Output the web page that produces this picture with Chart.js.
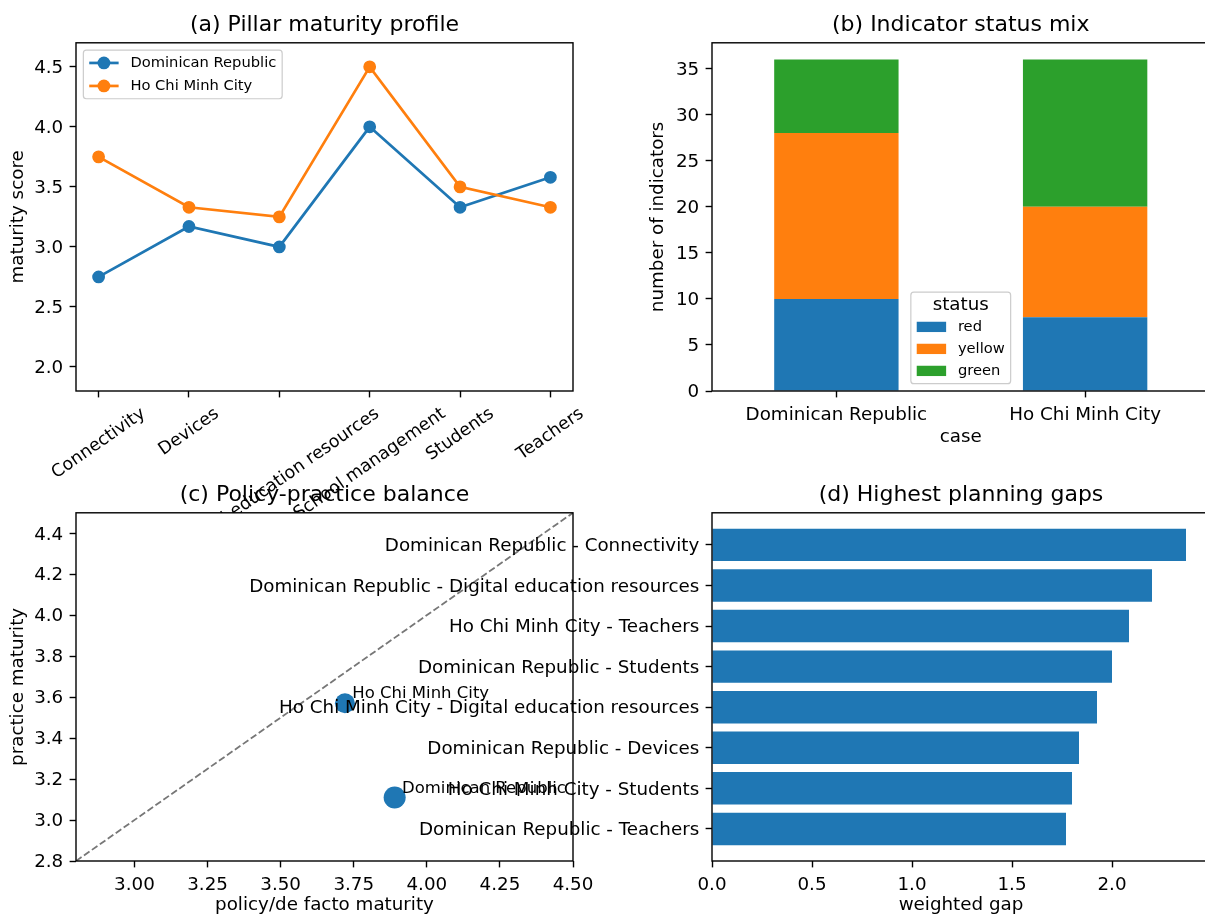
<!DOCTYPE html>
<html>
<head>
<meta charset="utf-8">
<script src="https://cdn.jsdelivr.net/npm/chart.js@4.4.1/dist/chart.umd.min.js"></script>
<style>
  html, body { margin: 0; padding: 0; background: #fff; }
  #fig { position: relative; width: 1205px; height: 917px; overflow: hidden; background: #fff; }
  #fig canvas { position: absolute; }
</style>
</head>
<body>
<div id="fig">
  <canvas id="cA" width="600" height="560" style="left:0;top:0;z-index:1"></canvas>
  <canvas id="cB" width="615" height="470" style="left:600px;top:0;z-index:1"></canvas>
  <canvas id="cC" width="600" height="447" style="left:0;top:470px;z-index:2"></canvas>
  <canvas id="cD" width="985" height="447" style="left:230px;top:470px;z-index:3"></canvas>
</div>
<script>
/* (a) pillar maturity profile */
var PILLARS = ['Connectivity', 'Devices', 'Digital education resources', 'School management', 'Students', 'Teachers'];
var DR_SCORES = [2.75, 3.17, 3.0, 4.0, 3.33, 3.58];
var HCMC_SCORES = [3.75, 3.33, 3.25, 4.5, 3.5, 3.33];
var SCORE_TICKS = [2.0, 2.5, 3.0, 3.5, 4.0, 4.5];

/* (b) indicator status mix */
var CASES = ['Dominican Republic', 'Ho Chi Minh City'];
var RED_COUNTS = [10, 8];
var YELLOW_COUNTS = [18, 12];
var GREEN_COUNTS = [8, 16];
var COUNT_TICKS = [0, 5, 10, 15, 20, 25, 30, 35];

/* (c) policy-practice balance */
var BAL_NAMES = ['Dominican Republic', 'Ho Chi Minh City'];
var POLICY = [3.89, 3.72];
var PRACTICE = [3.11, 3.57];
var POLICY_TICKS = [3.0, 3.25, 3.5, 3.75, 4.0, 4.25, 4.5];
var PRACTICE_TICKS = [2.8, 3.0, 3.2, 3.4, 3.6, 3.8, 4.0, 4.2, 4.4];

/* (d) highest planning gaps */
var GAP_LABELS = [
  'Dominican Republic - Connectivity',
  'Dominican Republic - Digital education resources',
  'Ho Chi Minh City - Teachers',
  'Dominican Republic - Students',
  'Ho Chi Minh City - Digital education resources',
  'Dominican Republic - Devices',
  'Ho Chi Minh City - Students',
  'Dominican Republic - Teachers'
];
var GAP_VALUES = [2.37, 2.20, 2.085, 2.0, 1.925, 1.835, 1.80, 1.77];
var GAP_TICKS = [0, 0.5, 1.0, 1.5, 2.0];

var C0 = '#1f77b4', C1 = '#ff7f0e', C2 = '#2ca02c';
var FONT = "'DejaVu Sans', sans-serif";
var TICK = 6.4;

Chart.defaults.font.family = FONT;
Chart.defaults.font.size = 18.3;
Chart.defaults.color = '#000';
Chart.defaults.animation = false;
Chart.defaults.responsive = false;
Chart.defaults.plugins.legend.display = false;
Chart.defaults.plugins.tooltip.enabled = false;

function axisGrid() {
  return { drawOnChartArea: false, drawTicks: true, tickLength: TICK, tickWidth: 1.4, tickColor: '#000', offset: false };
}
function fixedTicks(arr) {
  return function (scale) { scale.ticks = arr.map(function (v) { return { value: v }; }); };
}
function panelTitle(text) {
  return { display: true, text: text, fullSize: false, color: '#000',
    font: { size: 22, weight: 'normal' }, padding: { top: 11.8, bottom: 4.6 } };
}
function axisTitle(text, pad) {
  return { display: true, text: text, color: '#000', font: { size: 18.3 }, padding: pad };
}

/* axes box (all four spines); optional white face to hide what lies under it */
Chart.register({
  id: 'frame',
  beforeDraw: function (chart, args, o) {
    if (!o.fill) { return; }
    var a = chart.chartArea, ctx = chart.ctx;
    ctx.save(); ctx.fillStyle = '#fff';
    ctx.fillRect(a.left, a.top, a.right - a.left, a.bottom - a.top);
    ctx.restore();
  },
  afterDraw: function (chart) {
    var a = chart.chartArea, ctx = chart.ctx;
    ctx.save(); ctx.strokeStyle = '#000'; ctx.lineWidth = 1.4;
    ctx.strokeRect(a.left, a.top, a.right - a.left, a.bottom - a.top);
    ctx.restore();
  }
});

/* matplotlib-like framed legend drawn inside the axes */
Chart.register({
  id: 'mplLegend',
  afterDraw: function (chart, args, o) {
    if (!o.loc) { return; }
    var ctx = chart.ctx, a = chart.chartArea, fs = o.fontSize;
    var padX = 0.4 * fs, padY = o.padY, hl = 2 * fs, hp = 0.8 * fs;
    var sets = chart.data.datasets;
    ctx.save();
    ctx.font = fs + 'px ' + FONT;
    var tw = 0;
    sets.forEach(function (d) { tw = Math.max(tw, ctx.measureText(d.label).width); });
    var w = padX * 2 + hl + hp + tw;
    var titleH = o.title ? o.titleHeight : 0;
    var h = padY * 2 + titleH + sets.length * o.rowHeight + (sets.length - 1) * o.spacing;
    var gap = 0.5 * fs, x, y;
    if (o.loc === 'upper left') { x = a.left + gap; y = a.top + gap; }
    else { x = (a.left + a.right) / 2 - w / 2; y = a.bottom - gap - h; }
    ctx.beginPath();
    ctx.roundRect(x, y, w, h, 3);
    ctx.fillStyle = 'rgba(255,255,255,0.8)'; ctx.fill();
    ctx.strokeStyle = '#cccccc'; ctx.lineWidth = 1.2; ctx.stroke();
    ctx.textBaseline = 'middle';
    if (o.title) {
      ctx.font = o.titleSize + 'px ' + FONT; ctx.fillStyle = '#000'; ctx.textAlign = 'center';
      ctx.fillText(o.title, x + w / 2, y + padY + o.titleOffset);
    }
    ctx.font = fs + 'px ' + FONT; ctx.textAlign = 'left';
    sets.forEach(function (d, i) {
      var cy = y + padY + titleH + o.rowHeight / 2 + i * (o.rowHeight + o.spacing);
      var hx = x + padX;
      var col = d.borderColor || d.backgroundColor;
      if (o.kind === 'line') {
        ctx.strokeStyle = col; ctx.lineWidth = d.borderWidth;
        ctx.beginPath(); ctx.moveTo(hx, cy); ctx.lineTo(hx + hl, cy); ctx.stroke();
        ctx.fillStyle = col; ctx.beginPath();
        ctx.arc(hx + hl / 2, cy, d.pointRadius + d.pointBorderWidth / 2, 0, Math.PI * 2); ctx.fill();
      } else {
        ctx.fillStyle = d.backgroundColor;
        ctx.fillRect(hx, cy - 0.35 * fs, hl, 0.7 * fs);
      }
      ctx.fillStyle = '#000';
      ctx.fillText(d.label, hx + hl + hp, cy);
    });
    ctx.restore();
  }
});

/* rotated category labels centred under their ticks */
Chart.register({
  id: 'slantLabels',
  afterDraw: function (chart, args, o) {
    if (!o.labels) { return; }
    var sx = chart.scales.x, ctx = chart.ctx;
    var th = o.angle * Math.PI / 180, c = Math.cos(th), s = Math.sin(th), H = o.size * 1.16;
    ctx.save();
    ctx.font = o.size + 'px ' + FONT; ctx.fillStyle = '#000';
    ctx.textAlign = 'center'; ctx.textBaseline = 'middle';
    o.labels.forEach(function (lab, i) {
      var W = ctx.measureText(lab).width;
      var bh = W * s + H * c;
      var cx = sx.getPixelForValue(i), cy = chart.chartArea.bottom + 2 * TICK + bh / 2;
      ctx.save(); ctx.translate(cx, cy); ctx.rotate(-th); ctx.fillText(lab, 0, 0); ctx.restore();
    });
    ctx.restore();
  }
});

/* text next to scatter points */
Chart.register({
  id: 'pointNotes',
  afterDatasetsDraw: function (chart, args, o) {
    if (!o.names) { return; }
    var meta = chart.getDatasetMeta(0), ctx = chart.ctx;
    ctx.save();
    ctx.font = o.size + 'px ' + FONT; ctx.fillStyle = '#000';
    ctx.textAlign = 'left'; ctx.textBaseline = 'alphabetic';
    meta.data.forEach(function (pt, i) { ctx.fillText(o.names[i], pt.x + 7.3, pt.y - 5); });
    ctx.restore();
  }
});

/* (a) */
new Chart(document.getElementById('cA'), {
  type: 'line',
  data: {
    datasets: [
      { label: 'Dominican Republic', data: DR_SCORES.map(function (v, i) { return { x: i, y: v }; }),
        borderColor: C0, backgroundColor: C0, pointBorderColor: C0, borderWidth: 2.7,
        pointRadius: 5.5, pointBorderWidth: 1.8, order: 1 },
      { label: 'Ho Chi Minh City', data: HCMC_SCORES.map(function (v, i) { return { x: i, y: v }; }),
        borderColor: C1, backgroundColor: C1, pointBorderColor: C1, borderWidth: 2.7,
        pointRadius: 5.5, pointBorderWidth: 1.8, order: 0 }
    ]
  },
  options: {
    layout: { padding: { left: 7, right: 27, top: 0, bottom: 159 } },
    scales: {
      x: { type: 'linear', bounds: 'data', offset: false, min: -0.25, max: 5.25, grid: axisGrid(),
        border: { display: false }, ticks: { display: false },
        afterBuildTicks: fixedTicks(PILLARS.map(function (p, i) { return i; })),
        afterFit: function (s) { s.height = 10; } },
      y: { type: 'linear', bounds: 'data', min: 1.8, max: 4.7, grid: axisGrid(), border: { display: false },
        ticks: { padding: TICK, labelOffset: 1.5, callback: function (v) { return v.toFixed(1); } },
        afterBuildTicks: fixedTicks(SCORE_TICKS), afterFit: function (s) { s.width = 69; },
        title: axisTitle('maturity score', 0) }
    },
    plugins: {
      title: panelTitle('(a) Pillar maturity profile'),
      mplLegend: { loc: 'upper left', kind: 'line', fontSize: 14.7, padY: 4.8, rowHeight: 16, spacing: 7 },
      slantLabels: { labels: PILLARS, angle: 35, size: 17.5 }
    }
  }
});

/* (b) */
new Chart(document.getElementById('cB'), {
  type: 'bar',
  data: {
    labels: CASES,
    datasets: [
      { label: 'red', data: RED_COUNTS, backgroundColor: C0 },
      { label: 'yellow', data: YELLOW_COUNTS, backgroundColor: C1 },
      { label: 'green', data: GREEN_COUNTS, backgroundColor: C2 }
    ]
  },
  options: {
    datasets: { bar: { barPercentage: 0.5, categoryPercentage: 1 } },
    layout: { padding: { left: 47, right: 5.5, top: 0, bottom: 19 } },
    scales: {
      x: { stacked: true, grid: axisGrid(), border: { display: false },
        ticks: { padding: TICK, maxRotation: 0, autoSkip: false },
        title: axisTitle('case', { top: 0, bottom: 3.2 }), afterFit: function (s) { s.height = 60; } },
      y: { stacked: true, bounds: 'data', min: 0, max: 37.8, grid: axisGrid(), border: { display: false },
        ticks: { padding: TICK, labelOffset: 1.5 }, afterBuildTicks: fixedTicks(COUNT_TICKS),
        afterFit: function (s) { s.width = 65; }, title: axisTitle('number of indicators', 0) }
    },
    plugins: {
      title: panelTitle('(b) Indicator status mix'),
      mplLegend: { loc: 'lower center', kind: 'patch', fontSize: 14.7, padY: 5, rowHeight: 15.5, spacing: 6.5,
        title: 'status', titleSize: 18.3, titleHeight: 22, titleOffset: 8 }
    }
  }
});

/* (c) */
new Chart(document.getElementById('cC'), {
  type: 'scatter',
  data: {
    datasets: [
      { label: 'cases', data: POLICY.map(function (v, i) { return { x: v, y: PRACTICE[i] }; }),
        backgroundColor: C0, borderColor: C0, pointRadius: [11, 10], pointBorderWidth: 0 },
      { label: 'parity', data: [{ x: 2.8, y: 2.8 }, { x: 4.5, y: 4.5 }], showLine: true,
        borderColor: '#777777', borderWidth: 1.8, borderDash: [6.8, 2.9], pointRadius: 0 }
    ]
  },
  options: {
    layout: { padding: { left: 7, right: 27, top: 0, bottom: 0 } },
    scales: {
      x: { type: 'linear', bounds: 'data', min: 2.8, max: 4.5, grid: axisGrid(), border: { display: false },
        ticks: { padding: TICK, callback: function (v) { return v.toFixed(2); } },
        afterBuildTicks: fixedTicks(POLICY_TICKS), afterFit: function (s) { s.height = 56; },
        title: axisTitle('policy/de facto maturity', { top: 0, bottom: 1.2 }) },
      y: { type: 'linear', bounds: 'data', min: 2.8, max: 4.5, grid: axisGrid(), border: { display: false },
        ticks: { padding: TICK, labelOffset: 1.5, callback: function (v) { return v.toFixed(1); } },
        afterBuildTicks: fixedTicks(PRACTICE_TICKS), afterFit: function (s) { s.width = 69; },
        title: axisTitle('practice maturity', 0) }
    },
    plugins: {
      title: panelTitle('(c) Policy-practice balance'),
      frame: { fill: true },
      pointNotes: { names: BAL_NAMES, size: 16.5 }
    }
  }
});

/* (d) */
new Chart(document.getElementById('cD'), {
  type: 'bar',
  data: {
    datasets: [
      { label: 'weighted gap', data: GAP_VALUES.map(function (v, i) { return { x: v, y: i }; }),
        backgroundColor: C0, barPercentage: 0.8, categoryPercentage: 1 }
    ]
  },
  options: {
    indexAxis: 'y',
    layout: { padding: { left: 0, right: 5, top: 0, bottom: 0 } },
    scales: {
      x: { type: 'linear', bounds: 'data', min: 0, max: 2.49, grid: axisGrid(), border: { display: false },
        ticks: { padding: TICK, callback: function (v) { return v.toFixed(1); } },
        afterBuildTicks: fixedTicks(GAP_TICKS), afterFit: function (s) { s.height = 56; },
        title: axisTitle('weighted gap', { top: 0, bottom: 1.2 }) },
      y: { type: 'linear', bounds: 'data', offset: false, min: -0.79, max: 7.79, reverse: true, grid: axisGrid(),
        border: { display: false },
        ticks: { padding: TICK, labelOffset: 1.5, autoSkip: false, callback: function (v) { return GAP_LABELS[v]; } },
        afterBuildTicks: fixedTicks(GAP_LABELS.map(function (l, i) { return i; })),
        afterFit: function (s) { s.width = 482; } }
    },
    plugins: { title: panelTitle('(d) Highest planning gaps') }
  }
});
</script>
</body>
</html>
